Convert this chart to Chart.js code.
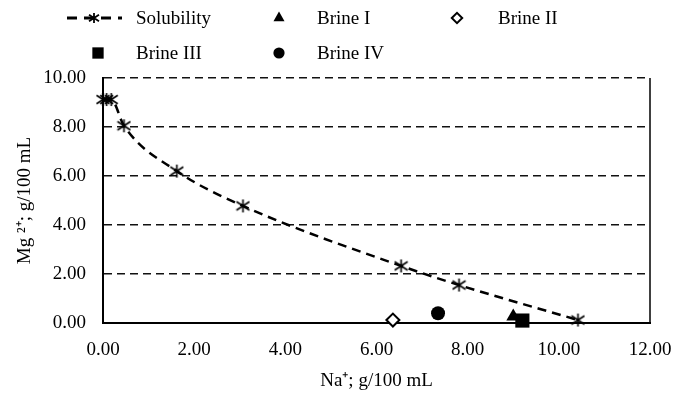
<!DOCTYPE html>
<html>
<head>
<meta charset="utf-8">
<script src="https://cdn.jsdelivr.net/npm/chart.js@4/dist/chart.umd.min.js"></script>
<style>
  html, body { margin: 0; padding: 0; background: #fff; }
  #wrap { width: 688px; height: 393px; }
</style>
</head>
<body>
<div id="wrap"><canvas id="chart" width="688" height="393"></canvas></div>
<script>
// Solubility curve (Na+ vs Mg2+, g/100 mL)
var SOL_NA = [0.00, 0.08, 0.18, 0.46, 1.62, 3.07, 6.54, 7.81, 10.42];
var SOL_MG = [9.12, 9.12, 9.12, 8.05, 6.20, 4.78, 2.33, 1.55, 0.12];

// Brine samples
var BRINE_NAMES = ['Brine I', 'Brine II', 'Brine III', 'Brine IV'];
var BRINE_NA = [9.00, 6.36, 9.20, 7.35];
var BRINE_MG = [0.27, 0.12, 0.10, 0.40];

var X_MIN = 0, X_MAX = 12, X_STEP = 2;
var Y_MIN = 0, Y_MAX = 10, Y_STEP = 2;

var FONT = 'Liberation Serif';

// six-armed asterisk marker used by the solubility series
function makeStar(size, lw) {
  var c = document.createElement('canvas');
  c.width = size;
  c.height = size;
  var g = c.getContext('2d');
  var m = size / 2, r = size / 2 - 1;
  g.strokeStyle = '#000';
  g.lineWidth = lw;
  g.beginPath();
  g.moveTo(m, m - r); g.lineTo(m, m + r);
  g.moveTo(m - r, m - r * 0.65); g.lineTo(m + r, m + r * 0.65);
  g.moveTo(m + r, m - r * 0.65); g.lineTo(m - r, m + r * 0.65);
  g.stroke();
  return c;
}

var starBig = makeStar(15, 1.6);
var starSmall = makeStar(12, 1.8);

function pts(xs, ys) {
  return xs.map(function (x, i) { return { x: x, y: ys[i] }; });
}

var brineStyles = [
  { pointStyle: 'triangle', radius: 8, bg: '#000', border: 0 },
  { pointStyle: 'rectRot', radius: 6.5, bg: '#fff', border: 2 },
  { pointStyle: 'rect', radius: 10, bg: '#000', border: 0 },
  { pointStyle: 'circle', radius: 7, bg: '#000', border: 0 }
];

var datasets = [{
  label: 'Solubility',
  data: pts(SOL_NA, SOL_MG),
  showLine: true,
  borderColor: '#000',
  borderWidth: 2.5,
  borderDash: [9, 6],
  cubicInterpolationMode: 'monotone',
  pointStyle: starBig,
  pointRadius: 7,
  clip: false
}];

BRINE_NAMES.forEach(function (name, i) {
  var s = brineStyles[i];
  datasets.push({
    label: name,
    data: [{ x: BRINE_NA[i], y: BRINE_MG[i] }],
    pointStyle: s.pointStyle,
    pointRadius: s.radius,
    pointBackgroundColor: s.bg,
    pointBorderColor: '#000',
    pointBorderWidth: s.border,
    clip: false
  });
});

// legend drawn as a grid, like the spreadsheet original
var LEGEND_MARK_X = [94, 279, 457];
var LEGEND_TEXT_X = [136, 317, 498];
var LEGEND_ROW_Y = [18, 53];

var gridLegend = {
  id: 'gridLegend',
  afterDraw: function (chart) {
    var ctx = chart.ctx;
    ctx.save();
    ctx.font = '19px "' + FONT + '"';
    ctx.textBaseline = 'middle';
    ctx.fillStyle = '#000';
    chart.data.datasets.forEach(function (ds, i) {
      var col = i % 3, row = Math.floor(i / 3);
      var mx = LEGEND_MARK_X[col], y = LEGEND_ROW_Y[row];
      if (i === 0) {
        ctx.save();
        ctx.strokeStyle = '#000';
        ctx.lineWidth = 3;
        ctx.setLineDash([10, 7]);
        ctx.beginPath();
        ctx.moveTo(mx - 27, y);
        ctx.lineTo(mx + 28, y);
        ctx.stroke();
        ctx.restore();
        ctx.drawImage(starSmall, mx - 6, y - 6);
      } else {
        var s = brineStyles[i - 1];
        ctx.save();
        ctx.fillStyle = s.bg;
        ctx.strokeStyle = '#000';
        ctx.lineWidth = s.border;
        Chart.helpers.drawPoint(ctx, {
          pointStyle: s.pointStyle,
          radius: s.radius * 0.8,
          rotation: 0,
          borderWidth: s.border
        }, col === 0 ? mx + 4 : mx, y);
        ctx.restore();
      }
      ctx.fillText(ds.label, LEGEND_TEXT_X[col], y + 1);
    });
    ctx.restore();
  }
};

// right-hand frame line of the plot area
var rightFrame = {
  id: 'rightFrame',
  beforeDatasetsDraw: function (chart) {
    var a = chart.chartArea, ctx = chart.ctx;
    ctx.save();
    ctx.strokeStyle = '#000';
    ctx.lineWidth = 1.5;
    ctx.beginPath();
    ctx.moveTo(a.right, a.top);
    ctx.lineTo(a.right, a.bottom);
    ctx.stroke();
    ctx.restore();
  }
};

Chart.defaults.font.family = FONT;
Chart.defaults.font.size = 19;
Chart.defaults.color = '#000';

new Chart(document.getElementById('chart'), {
  type: 'scatter',
  data: { datasets: datasets },
  plugins: [gridLegend, rightFrame],
  options: {
    responsive: false,
    devicePixelRatio: 1,
    animation: false,
    layout: { padding: { top: 78, right: 38, left: 0, bottom: 0 } },
    plugins: {
      legend: { display: false },
      tooltip: { enabled: false }
    },
    scales: {
      x: {
        type: 'linear',
        min: X_MIN,
        max: X_MAX,
        ticks: {
          stepSize: X_STEP,
          padding: 16,
          maxRotation: 0,
          callback: function (v) { return v.toFixed(2); }
        },
        grid: { display: false, drawTicks: false },
        border: { display: true, color: '#000', width: 2 },
        title: {
          display: true,
          text: 'Na\u207A; g/100 mL',
          padding: { top: 4, bottom: 1 }
        },
        afterFit: function (s) { s.height = 70; }
      },
      y: {
        type: 'linear',
        min: Y_MIN,
        max: Y_MAX,
        ticks: {
          stepSize: Y_STEP,
          padding: 17,
          callback: function (v) { return v.toFixed(2); }
        },
        grid: { color: '#111', lineWidth: 1.4, drawTicks: false },
        border: { display: true, color: '#000', width: 2, dash: [8, 5] },
        title: {
          display: true,
          text: 'Mg \u00B2\u207A; g/100 mL',
          padding: { top: 14, bottom: 0 }
        },
        afterFit: function (s) { s.width = 103; }
      }
    }
  }
});
</script>
</body>
</html>
